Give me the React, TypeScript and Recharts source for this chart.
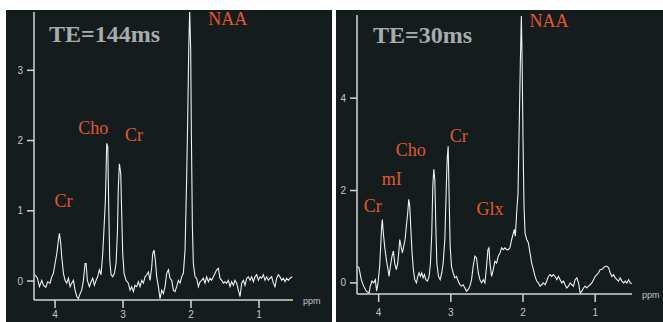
import React from 'react';
import { LineChart, Line, XAxis, YAxis, ReferenceDot, Label } from 'recharts';

// TE=144ms spectrum (ppm, intensity)
const ppm144 = [
  4.294, 4.26, 4.23, 4.196, 4.172, 4.137, 4.108, 4.074, 4.049, 4.025,
  4.0, 3.975, 3.951, 3.936, 3.917, 3.902, 3.877, 3.853, 3.828, 3.804,
  3.779, 3.755, 3.73, 3.706, 3.681, 3.657, 3.632, 3.608, 3.583, 3.559,
  3.544, 3.525, 3.495, 3.471, 3.446, 3.422, 3.397, 3.373, 3.348, 3.324,
  3.299, 3.279, 3.26, 3.24, 3.225, 3.211, 3.196, 3.176, 3.152, 3.127,
  3.103, 3.083, 3.069, 3.054, 3.034, 3.02, 3.005, 2.985, 2.956, 2.922,
  2.897, 2.873, 2.848, 2.824, 2.799, 2.775, 2.75, 2.725, 2.701, 2.676,
  2.652, 2.627, 2.603, 2.578, 2.564, 2.544, 2.525, 2.505, 2.48, 2.456,
  2.431, 2.407, 2.382, 2.358, 2.333, 2.309, 2.284, 2.26, 2.235, 2.211,
  2.186, 2.162, 2.137, 2.113, 2.088, 2.064, 2.049, 2.034, 2.02, 2.005,
  1.995, 1.98, 1.966, 1.941, 1.917, 1.892, 1.868, 1.843, 1.819, 1.794,
  1.77, 1.745, 1.721, 1.696, 1.672, 1.647, 1.623, 1.598, 1.574, 1.549,
  1.525, 1.5, 1.475, 1.451, 1.426, 1.402, 1.377, 1.353, 1.328, 1.304,
  1.279, 1.255, 1.23, 1.206, 1.181, 1.157, 1.132, 1.108, 1.083, 1.059,
  1.034, 1.01, 0.985, 0.961, 0.936, 0.912, 0.887, 0.863, 0.838, 0.814,
  0.789, 0.765, 0.74, 0.716, 0.691, 0.667, 0.642, 0.618, 0.593, 0.569,
  0.544, 0.51,
];
const int144 = [
  0.09, 0.04, -0.08, 0.01, -0.06, -0.09, -0.01, -0.03, 0.06, 0.11,
  0.25, 0.39, 0.58, 0.68, 0.54, 0.35, 0.11, 0.01, -0.03, 0.04,
  -0.08, -0.03, 0.01, -0.13, -0.22, -0.25, -0.18, -0.13, 0.01, 0.25,
  0.25, 0.01, -0.08, -0.01, 0.04, -0.06, 0.01, 0.06, 0.16, 0.09,
  0.39, 0.77, 1.15, 1.96, 1.91, 1.06, 0.3, 0.09, 0.06, 0.11,
  0.25, 0.68, 1.34, 1.67, 1.53, 0.96, 0.39, 0.11, 0.01, -0.03,
  -0.13, -0.08, -0.15, -0.06, -0.08, -0.01, -0.08, 0.01, -0.03, 0.06,
  0.09, 0.13, 0.01, 0.2, 0.39, 0.44, 0.3, 0.06, -0.08, -0.25,
  -0.13, -0.18, -0.08, 0.11, 0.16, 0.04, 0.01, -0.13, -0.15, -0.08,
  0.01, -0.03, 0.06, 0.11, 0.44, 1.48, 2.29, 3.29, 3.85, 3.29,
  2.1, 0.77, 0.25, 0.06, 0.04, -0.08, -0.01, 0.01, 0.04, -0.03,
  0.06, -0.01, 0.04, 0.01, 0.06, 0.11, 0.16, 0.18, 0.04, 0.01,
  -0.03, -0.01, -0.03, 0.01, -0.08, -0.01, -0.06, 0.01, -0.03, -0.13,
  -0.22, -0.03, 0.01, -0.06, 0.04, 0.06, 0.01, 0.06, -0.01, 0.06,
  0.09, 0.01, 0.06, 0.04, 0.09, 0.01, 0.06, 0.01, 0.04, 0.06,
  -0.03, -0.08, 0.04, 0.09, 0.06, 0.01, 0.04, -0.01, 0.04, 0.01,
  0.04, 0.06,
];

// TE=30ms spectrum
const ppm30 = [
  4.301, 4.273, 4.241, 4.208, 4.171, 4.134, 4.116, 4.093, 4.069, 4.046,
  4.028, 4.009, 3.986, 3.972, 3.958, 3.949, 3.935, 3.917, 3.894, 3.87,
  3.856, 3.838, 3.815, 3.796, 3.778, 3.755, 3.736, 3.722, 3.708, 3.69,
  3.671, 3.653, 3.634, 3.616, 3.597, 3.583, 3.569, 3.556, 3.537, 3.519,
  3.5, 3.477, 3.458, 3.44, 3.421, 3.403, 3.384, 3.366, 3.347, 3.324,
  3.301, 3.282, 3.264, 3.25, 3.236, 3.222, 3.208, 3.194, 3.171, 3.148,
  3.125, 3.106, 3.083, 3.065, 3.051, 3.037, 3.023, 3.009, 2.991, 2.968,
  2.944, 2.921, 2.898, 2.875, 2.852, 2.829, 2.806, 2.782, 2.759, 2.736,
  2.713, 2.69, 2.667, 2.644, 2.62, 2.597, 2.574, 2.551, 2.528, 2.505,
  2.486, 2.472, 2.458, 2.435, 2.412, 2.389, 2.366, 2.343, 2.319, 2.296,
  2.273, 2.25, 2.227, 2.204, 2.181, 2.157, 2.134, 2.12, 2.106, 2.088,
  2.069, 2.051, 2.037, 2.023, 2.014, 2.0, 1.986, 1.972, 1.949, 1.926,
  1.903, 1.88, 1.856, 1.833, 1.81, 1.787, 1.764, 1.741, 1.718, 1.694,
  1.671, 1.648, 1.625, 1.602, 1.579, 1.556, 1.532, 1.509, 1.486, 1.463,
  1.44, 1.417, 1.394, 1.37, 1.347, 1.324, 1.301, 1.278, 1.255, 1.231,
  1.208, 1.185, 1.162, 1.139, 1.116, 1.093, 1.069, 1.046, 1.023, 1.0,
  0.977, 0.954, 0.931, 0.907, 0.884, 0.861, 0.838, 0.815, 0.792, 0.769,
  0.745, 0.722, 0.699, 0.676, 0.653, 0.63, 0.606, 0.583, 0.56, 0.537,
  0.514, 0.491,
];
const int30 = [
  0.36, 0.33, 0.07, -0.07, -0.18, -0.22, -0.07, 0.04, 0, 0.07,
  -0.18, 0, 0.36, 0.79, 1.23, 1.37, 1.08, 0.79, 0.51, 0.29,
  0.14, 0.36, 0.58, 0.69, 0.43, 0.29, 0.43, 0.65, 0.94, 0.79,
  0.65, 0.79, 0.94, 1.23, 1.52, 1.81, 1.66, 1.23, 0.65, 0.29,
  0.07, 0, 0.14, 0.22, 0.14, 0.22, 0.11, 0.18, 0.07, 0.04,
  0.14, 0.43, 1.08, 2.09, 2.46, 2.24, 1.23, 0.43, 0.14, 0.07,
  0.22, 0.43, 0.94, 1.95, 2.67, 2.96, 1.81, 0.79, 0.36, 0.22,
  0.11, 0.14, 0.04, -0.04, -0.07, -0.04, -0.11, -0.18, -0.14, -0.07,
  0.07, 0.36, 0.58, 0.54, 0.22, 0.07, 0, 0.07, 0, 0.36,
  0.72, 0.76, 0.43, 0.14, 0.29, 0.47, 0.43, 0.58, 0.65, 0.76,
  0.72, 0.76, 0.72, 0.72, 0.76, 0.94, 1.08, 1.16, 1.01, 1.52,
  1.95, 3.54, 4.77, 5.78, 4.98, 3.11, 1.66, 1.08, 0.94, 0.87,
  0.65, 0.43, 0.29, 0.14, 0.04, 0, -0.07, -0.04, 0, -0.04,
  0.04, 0.14, 0.18, 0.14, 0.18, 0.14, 0.07, 0.14, 0.07, 0,
  0.04, -0.04, -0.11, -0.07, 0, -0.04, -0.07, 0.07, 0.11, 0,
  -0.22, -0.18, -0.11, -0.07, -0.11, -0.07, -0.04, 0, 0.07, 0.14,
  0.18, 0.22, 0.29, 0.29, 0.33, 0.36, 0.36, 0.33, 0.22, 0.14,
  0.18, 0.11, 0.07, 0.04, 0.11, 0.04, 0, 0.04, 0, 0.07,
  0, -0.01,
];

// metabolite labels (placed at ppm / intensity)
const peakNames144 = ['NAA', 'Cho', 'Cr', 'Cr'];
const peakPpm144 = [1.46, 3.44, 2.84, 3.875];
const peakVal144 = [3.74, 2.19, 2.08, 1.15];

const peakNames30 = ['NAA', 'Cr', 'Cho', 'mI', 'Cr', 'Glx'];
const peakPpm30 = [1.64, 2.889, 3.556, 3.82, 4.083, 2.458];
const peakVal30 = [5.67, 3.18, 2.88, 2.25, 1.67, 1.61];

const xTicks = [4, 3, 2, 1];
const yTicks144 = [0, 1, 2, 3];
const yTicks30 = [0, 2, 4];

const BG = '#141c1e';
const LINE = '#f0f0f0';
const AXIS = '#d4d4d4';
const TICK = '#c4c4c4';
const ORANGE = '#e4572e';

const tickStyle = { fill: TICK, fontSize: 10, fontFamily: 'Liberation Sans, Arial, sans-serif' };

const PpmLabel = (props: any) => {
  const vb = props.viewBox || {};
  return (
    <text
      x={vb.x + vb.width + 10}
      y={vb.y + 4}
      fill={TICK}
      fontSize={9}
      fontFamily="Liberation Sans, Arial, sans-serif"
    >
      ppm
    </text>
  );
};

interface SpectrumProps {
  ppm: number[];
  values: number[];
  names: string[];
  peakPpm: number[];
  peakVal: number[];
  xDomain: [number, number];
  yDomain: [number, number];
  yTicks: number[];
  width: number;
  height: number;
  margin: { top: number; right: number; bottom: number; left: number };
  yAxisWidth: number;
  xAxisHeight: number;
  xTickMargin: number;
}

const Spectrum: React.FC<SpectrumProps> = ({
  ppm, values, names, peakPpm, peakVal, xDomain, yDomain, yTicks,
  width, height, margin, yAxisWidth, xAxisHeight, xTickMargin,
}) => {
  const data = ppm.map((p, i) => ({ ppm: p, value: values[i] }));
  return (
    <LineChart width={width} height={height} data={data} margin={margin}>
      <XAxis
        type="number"
        dataKey="ppm"
        domain={xDomain}
        reversed
        allowDataOverflow
        ticks={xTicks}
        height={xAxisHeight}
        stroke={AXIS}
        strokeWidth={1.5}
        tickSize={8}
        tickMargin={xTickMargin}
        tick={tickStyle}
      >
        <Label content={<PpmLabel />} />
      </XAxis>
      <YAxis
        type="number"
        domain={yDomain}
        allowDataOverflow
        ticks={yTicks}
        width={yAxisWidth}
        stroke={AXIS}
        strokeWidth={1.5}
        tickSize={7}
        tickMargin={4}
        tick={tickStyle}
      />
      <Line
        type="linear"
        dataKey="value"
        stroke={LINE}
        strokeWidth={1.1}
        dot={false}
        isAnimationActive={false}
      />
      {names.map((n, i) => (
        <ReferenceDot
          key={`${n}-${i}`}
          x={peakPpm[i]}
          y={peakVal[i]}
          r={0}
          fill="none"
          stroke="none"
          label={{
            value: n,
            position: 'center',
            fill: ORANGE,
            fontSize: 18,
            fontFamily: 'Liberation Serif, Times New Roman, serif',
          }}
        />
      ))}
    </LineChart>
  );
};

const titleStyle: React.CSSProperties = {
  position: 'absolute',
  fontFamily: 'Liberation Serif, Times New Roman, serif',
  fontWeight: 'bold',
  fontSize: 24,
  lineHeight: '24px',
  color: '#a7acac',
  whiteSpace: 'nowrap',
};

export default function App() {
  return (
    <div style={{ position: 'absolute', left: 0, top: 0, width: 663, height: 322, background: '#fff', overflow: 'hidden' }}>
      <div style={{ position: 'absolute', left: 6, top: 10, width: 326, height: 312, background: BG }}>
        <Spectrum
          ppm={ppm144}
          values={int144}
          names={peakNames144}
          peakPpm={peakPpm144}
          peakVal={peakVal144}
          xDomain={[0.5, 4.31]}
          yDomain={[-0.27, 3.83]}
          yTicks={yTicks144}
          width={326}
          height={312}
          margin={{ top: 2, right: 39, bottom: 0, left: 0 }}
          yAxisWidth={28}
          xAxisHeight={22}
          xTickMargin={3}
        />
        <div style={{ ...titleStyle, left: 43, top: 12 }}>TE=144ms</div>
      </div>
      <div style={{ position: 'absolute', left: 336, top: 10, width: 327, height: 312, background: BG }}>
        <Spectrum
          ppm={ppm30}
          values={int30}
          names={peakNames30}
          peakPpm={peakPpm30}
          peakVal={peakVal30}
          xDomain={[0.49, 4.3]}
          yDomain={[-0.24, 5.8]}
          yTicks={yTicks30}
          width={327}
          height={312}
          margin={{ top: 5, right: 31, bottom: 0, left: 0 }}
          yAxisWidth={21}
          xAxisHeight={28}
          xTickMargin={7}
        />
        <div style={{ ...titleStyle, left: 37, top: 13 }}>TE=30ms</div>
      </div>
    </div>
  );
}
